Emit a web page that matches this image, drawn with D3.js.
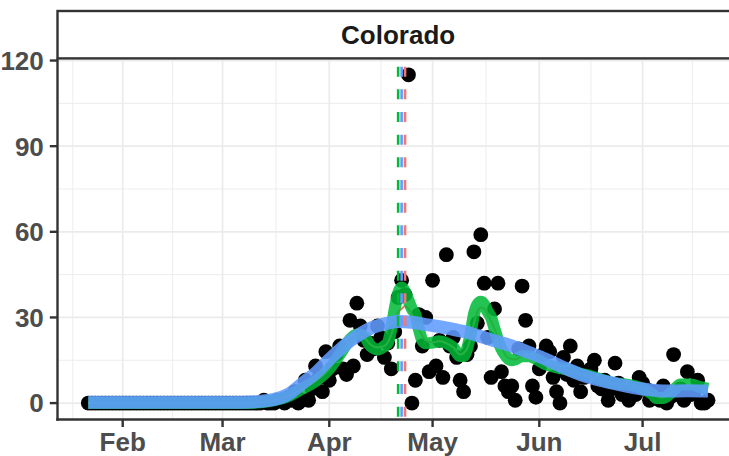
<!DOCTYPE html>
<html><head><meta charset="utf-8">
<script src="https://cdn.jsdelivr.net/npm/d3@7"></script>
<style>body{margin:0;background:#fff} svg{display:block}</style>
</head><body><svg id="c" width="729" height="456"></svg>
<script>
(function(){
// ---------------- data ----------------
const facetLabel = "Colorado";
const startDate = "2020-01-22";            // first observation, one value per day
const deaths = [
  0,0,0,0,0,0,0,0,0,0, 0,0,0,0,0,0,0,0,0,0,
  0,0,0,0,0,0,0,0,0,0, 0,0,0,0,0,0,0,0,0,0,
  0,0,0,0,0,0,0,0,0,0,
  0,1,0,0,0,1,1,0,2,1, 4,0,1,8,1,5,13,9,4,18,
  8,12,17,20,12,10,29,13,35,27, 22,17,21,19,27,23,16,21,12,25,
  37,43,38,115,0,8,31,20,30,11, 43,13,22,9,52,20,23,16,8,4,
  17,20,53,28,59,42,23,9,33,42, 11,6,4,6,1,19,41,29,20,6,
  2,12,17,20,18,9,4,0,16,10, 20,8,13,4,9,11,12,15,6,5,
  8,1,5,14,7,3,4,1,5,3, 9,7,5,1,4,2,1,6,0,2,
  17,3,5,1,11,3,4,8,0,0, 1
];
// short-window smooth (green, red underneath): day offset, value
const greenDay = [0,45,50,54,58,62,66,70,73,76,78,80,82,84,86,87,88,89,90,91,92,93,94,95,96,97,98,100,102,104,106,108,109,110,111,112,113,114,115,116,117,118,119,120,121,122,123,124,126,128,130,133,136,139,142,146,149,152,156,159,162,164,165,167,170,172,175,178,180];
const greenVal = [0,0,0.3,1,2.4,5,7.7,12,17,22.3,24,23.5,20,18.8,20,21.1,26,33,38.5,40.5,39,36,33,31,26,22,21,21.2,21.7,21,19.5,16.5,16.5,19,24,31,34.5,35.5,34.5,32,30,26,22,19,17,15.5,15,15.3,16.4,16.4,15.5,13.5,12.5,11.8,10.5,9.4,8.2,7.1,6.5,5.9,4.5,3,1.8,1.8,4.5,6.5,6.5,5.5,5];
const redDay = [0,45,50,54,58,62,66,70,73,76,78,80,82,84,86,88,89,90,91,92,93,94,96,98,100,102,104,106,108,110,112,113,114,115,116,118,120,122,124,126,128,130,133,136,139,142,146,149,152,156,159,162,164,166,168,170,172,175,178,180];
const redVal = [0,0,0.3,1,2.4,5,7.7,12,17,22,23.5,23,20.5,19.5,20,24,28,32,33,34,33,31,26,22,21.3,21.7,21,19.5,17,19,28,32,33.5,33,31,26,19.5,15.8,15.3,16.4,16.4,15.5,13.5,12.5,11.8,10.5,9.4,8.2,7.1,6.5,5.9,4.5,3,2,2.5,4.5,6,6,5.5,5];
// long-window smooth (blue)
const blueDay = [0,45,50,54,58,63,66,70,76,82,87,90,94,98,102,106,110,114,118,123,128,133,138,143,148,152,157,162,168,174,180];
const blueVal = [0.3,0.3,0.6,1.3,3,7.7,10.5,15.3,21.7,26.2,28,28.6,28.3,27.5,26.8,25.8,24.8,23.3,21.8,20,17.7,15.3,12.5,10,8.2,7.1,5.8,4.8,4.2,4.3,4.2];
const vlineDates = ["2020-04-21","2020-04-22","2020-04-23"];
const vlineColors = ["#00BA38","#619CFF","#F8766D"];
const monthTicks = ["2020-02-01","2020-03-01","2020-04-01","2020-05-01","2020-06-01","2020-07-01"];
const monthLabels = ["Feb","Mar","Apr","May","Jun","Jul"];
const yTicks = [0,30,60,90,120];
const yMinor = [15,45,75,105];

// ---------------- layout ----------------
const svg = d3.select("#c");
const parse = d3.utcParse("%Y-%m-%d");
const DAY = 864e5;
const t0 = parse(startDate);
const dayDate = i => new Date(t0.getTime() + i * DAY);
const n = deaths.length;
const span = n - 1;
const pad = span * 0.05;
const pxPerDay = 3.443;
const pL = 57.3, pT = 58.4, pB = 419.5;
const x = d3.scaleUtc()
  .domain([dayDate(-pad), dayDate(span + pad)])
  .range([pL, pL + (span + 2 * pad) * pxPerDay]);
const y = d3.scaleLinear().domain([-5.75, 120.75]).range([pB, pT]);
const pR = x.range()[1];

svg.append("defs").append("clipPath").attr("id","pc")
  .append("rect").attr("x",pL).attr("y",pT).attr("width",pR-pL).attr("height",pB-pT);

const grid = svg.append("g");
const majDates = monthTicks.map(parse);
const step = majDates[1] - majDates[0];
const ext = [new Date(+majDates[0] - step), ...majDates, new Date(+majDates[majDates.length-1] + step)];
const minorDates = d3.pairs(ext).map(([a,b]) => new Date((+a + +b)/2));
const gc = "#ebebeb";
grid.selectAll(".xm").data(minorDates).join("line")
  .attr("x1",d=>x(d)).attr("x2",d=>x(d)).attr("y1",pT).attr("y2",pB)
  .attr("stroke",gc).attr("stroke-width",0.9);
grid.selectAll(".ym").data(yMinor).join("line")
  .attr("x1",pL).attr("x2",pR).attr("y1",d=>y(d)).attr("y2",d=>y(d))
  .attr("stroke",gc).attr("stroke-width",0.9);
grid.selectAll(".xM").data(majDates).join("line")
  .attr("x1",d=>x(d)).attr("x2",d=>x(d)).attr("y1",pT).attr("y2",pB)
  .attr("stroke",gc).attr("stroke-width",1.7);
grid.selectAll(".yM").data(yTicks).join("line")
  .attr("x1",pL).attr("x2",pR).attr("y1",d=>y(d)).attr("y2",d=>y(d))
  .attr("stroke",gc).attr("stroke-width",1.7);

const plot = svg.append("g").attr("clip-path","url(#pc)");

// points
plot.selectAll("circle").data(deaths).join("circle")
  .attr("cx",(d,i)=>x(dayDate(i))).attr("cy",d=>y(d)).attr("r",7.4).attr("fill","#000");

// smooth lines
const gData = greenDay.map((d,i)=>({t:dayDate(d), v:greenVal[i]}));
const rData = redDay.map((d,i)=>({t:dayDate(d), v:redVal[i]}));
const bData = blueDay.map((d,i)=>({t:dayDate(d), v:blueVal[i]}));
const line = d3.line().x(d=>x(d.t)).y(d=>y(d.v)).curve(d3.curveMonotoneX);
plot.append("path").attr("d",line(rData)).attr("fill","none")
  .attr("stroke","#F8766D").attr("stroke-width",2.2);
plot.append("path").attr("d",line(gData)).attr("fill","none")
  .attr("stroke","#00BA38").attr("stroke-opacity",0.86).attr("stroke-width",12).attr("stroke-linejoin","round");
plot.append("path").attr("d",line(bData)).attr("fill","none")
  .attr("stroke","#619CFF").attr("stroke-opacity",0.88).attr("stroke-width",13).attr("stroke-linejoin","round");

// vertical dashed lines
plot.selectAll(".vl").data(vlineDates).join("line")
  .attr("x1",d=>x(parse(d))).attr("x2",d=>x(parse(d)))
  .attr("y1",pB-2.8).attr("y2",pT)
  .attr("stroke",(d,i)=>vlineColors[i])
  .attr("stroke-width",2.6).attr("stroke-dasharray","10,12.67");

// axes
const ax = svg.append("g");
const font = "'Liberation Sans', Arial, Helvetica, sans-serif";
ax.append("line").attr("x1",pL+0.2).attr("x2",pL+0.2).attr("y1",pT).attr("y2",pB+1.2)
  .attr("stroke","#333").attr("stroke-width",2.4);
ax.append("line").attr("x1",pL-1).attr("x2",pR).attr("y1",pB).attr("y2",pB)
  .attr("stroke","#333").attr("stroke-width",2.4);
ax.selectAll(".yt").data(yTicks).join("line")
  .attr("x1",pL-7.5).attr("x2",pL).attr("y1",d=>y(d)).attr("y2",d=>y(d))
  .attr("stroke","#333").attr("stroke-width",2.4);
ax.selectAll(".yl").data(yTicks).join("text")
  .attr("x",pL-13.5).attr("y",d=>y(d)).attr("dy","0.36em").attr("text-anchor","end")
  .attr("font-family",font).attr("font-weight","bold").attr("font-size",26).attr("fill","#4d4d4d")
  .text(d=>d);
ax.selectAll(".xt").data(majDates).join("line")
  .attr("x1",d=>x(d)).attr("x2",d=>x(d)).attr("y1",pB).attr("y2",pB+7.5)
  .attr("stroke","#333").attr("stroke-width",2.4);
ax.selectAll(".xl").data(majDates).join("text")
  .attr("x",d=>x(d)).attr("y",450.7).attr("text-anchor","middle")
  .attr("font-family",font).attr("font-weight","bold").attr("font-size",26).attr("fill","#4d4d4d")
  .text((d,i)=>monthLabels[i]);

// strip
const strip = svg.append("g");
strip.append("rect").attr("x",pL+0.2).attr("y",11).attr("width",pR-pL+10).attr("height",pT-11)
  .attr("fill","#fff").attr("stroke","#333").attr("stroke-width",2.4);
strip.append("text").attr("x",(pL+pR)/2).attr("y",(11+pT)/2).attr("dy","0.36em")
  .attr("text-anchor","middle").attr("font-family",font).attr("font-weight","bold")
  .attr("font-size",26).attr("fill","#1a1a1a").text(facetLabel);
})();
</script></body></html>
